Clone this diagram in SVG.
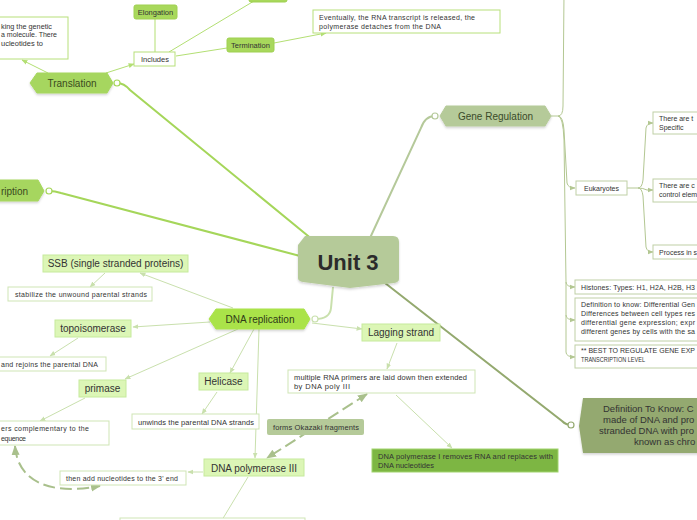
<svg xmlns="http://www.w3.org/2000/svg" width="697" height="520" viewBox="0 0 697 520">
<defs>
<style>
text{font-family:"Liberation Sans",Arial,sans-serif;fill:#333}
.s7{font-size:7px}
.s75{font-size:7.5px}
.s10{font-size:10px}
.mid{text-anchor:middle}
.end{text-anchor:end}
.wb{fill:#fff;stroke:#b7e07a;stroke-width:1}
.wl{fill:#fff;stroke:#cfe5b5;stroke-width:1}
.wo{fill:#fff;stroke:#bfd0a6;stroke-width:1}
.lg{fill:#dcf6b6;stroke:#c6ea9c;stroke-width:1}
.gb{fill:#a8d85c;stroke:#9fd050;stroke-width:1}
.cg{fill:none;stroke:#b3df73;stroke-width:1}
.cl{fill:none;stroke:#c9e0ad;stroke-width:1}
.co{fill:none;stroke:#b3c792;stroke-width:1}
.cd{fill:none;stroke:#a9c08c;stroke-width:2;stroke-dasharray:12 5}
.dot{fill:#fff;stroke-width:1.2}
</style>
<filter id="sh" x="-10%" y="-20%" width="120%" height="150%"><feDropShadow dx="0" dy="1.5" stdDeviation="1" flood-color="#000" flood-opacity="0.18"/></filter>
<marker id="ag" viewBox="0 0 10 10" refX="9" refY="5" markerWidth="6" markerHeight="6" markerUnits="userSpaceOnUse" orient="auto"><path d="M0,1 L10,5 L0,9 z" fill="#b3df73"/></marker>
<marker id="al" viewBox="0 0 10 10" refX="9" refY="5" markerWidth="6" markerHeight="6" markerUnits="userSpaceOnUse" orient="auto"><path d="M0,1 L10,5 L0,9 z" fill="#c9e0ad"/></marker>
<marker id="ao" viewBox="0 0 10 10" refX="9" refY="5" markerWidth="6" markerHeight="6" markerUnits="userSpaceOnUse" orient="auto"><path d="M0,1 L10,5 L0,9 z" fill="#b3c792"/></marker>
<marker id="ad" viewBox="0 0 10 10" refX="9" refY="5" markerWidth="10" markerHeight="10" markerUnits="userSpaceOnUse" orient="auto-start-reverse"><path d="M0,1 L10,5 L0,9 z" fill="#a9c08c"/></marker>
</defs>

<g id="connectors">
<path d="M117,83 Q124,83 130,90 L313,240" fill="none" stroke="#a5d65a" stroke-width="2"/>
<path d="M49,191 Q55,191 61,193 L300,256" fill="none" stroke="#a5d65a" stroke-width="2"/>
<path d="M435,116 Q425,116 421,128 L370,238" fill="none" stroke="#b5c99a" stroke-width="2"/>
<path d="M315,319 Q330,319 331,308 L333,287" fill="none" stroke="#c9e0ad" stroke-width="2"/>
<path d="M385,283 L562,421 Q566,425 571,425" fill="none" stroke="#94a96f" stroke-width="2"/>
<path class="cg" d="M48,73 L22,60" marker-end="url(#ag)"/>
<path class="cg" d="M106,73 L134,64" marker-end="url(#ag)"/>
<path class="cg" d="M155,52 L155,19"/>
<path class="cg" d="M169,52 L254,1"/>
<path class="cg" d="M176,56 L227,48"/>
<path class="cg" d="M274,43 L326,33" marker-end="url(#ag)"/>
<path class="co" d="M551,116 H558 Q563,116 563,106 L564,-5"/>
<path class="co" d="M558,116 Q563,116 564,130 L567,183 Q568,188 575,188" marker-end="url(#ao)"/>
<path class="co" d="M558,116 Q563,116 564,140 L566,282 Q566,287 575,287" marker-end="url(#ao)"/>
<path class="co" d="M566,282 L566,315 Q566,320 575,320" marker-end="url(#ao)"/>
<path class="co" d="M566,315 L566,352 Q566,357 575,357" marker-end="url(#ao)"/>
<path class="co" d="M627,188 H638 Q642,188 643,180 L646,128 Q647,123 653,123" marker-end="url(#ao)"/>
<path class="co" d="M638,188 Q643,188 647,190 L653,190" marker-end="url(#ao)"/>
<path class="co" d="M638,188 Q642,188 643,196 L646,247 Q647,252 653,252" marker-end="url(#ao)"/>
<path class="cl" d="M233,308 L140,273" marker-end="url(#al)"/>
<path class="cl" d="M105,273 L90,287" marker-end="url(#al)"/>
<path class="cl" d="M210,322 L133,327" marker-end="url(#al)"/>
<path class="cl" d="M78,338 L50,356" marker-end="url(#al)"/>
<path class="cl" d="M238,329 L125,379" marker-end="url(#al)"/>
<path class="cl" d="M85,398 L40,421" marker-end="url(#al)"/>
<path class="cl" d="M254,329 L230,373" marker-end="url(#al)"/>
<path class="cl" d="M217,392 L202,414" marker-end="url(#al)"/>
<path class="cl" d="M259,329 L255,458" marker-end="url(#al)"/>
<path class="cl" d="M203,472 L188,472" marker-end="url(#al)"/>
<path class="cl" d="M248,477 L222,520"/>
<path class="cl" d="M312,323 L362,329" marker-end="url(#al)"/>
<path class="cl" d="M397,343 L387,369" marker-end="url(#al)"/>
<path class="cl" d="M396,395 L452,448" marker-end="url(#al)"/>
<path class="cd" d="M367,394 L267,458" marker-start="url(#ad)" marker-end="url(#ad)"/>
<path class="cd" d="M15,446 C17,476 42,497 100,486" marker-start="url(#ad)" marker-end="url(#ad)"/>
</g>

<g id="unit3">
<path d="M305,236 H393 Q399,236 399,242 V279 Q399,282 394,283 L350,288 L303,282 Q298,281 298,278 V245 Z" fill="#b5ca99" filter="url(#sh)"/>
<text x="348" y="270" class="mid" style="font-size:22px;font-weight:bold;fill:#2b2b2b">Unit 3</text>
</g>

<g id="translation">
<polygon points="30,83 37,73 107,73 113,83 107,93 37,93" fill="#a6d65e" stroke="#a6d65e" stroke-linejoin="round" filter="url(#sh)"/>
<text x="72" y="86.5" class="s10 mid" style="fill:#3a4a20">Translation</text>
<circle class="dot" cx="117" cy="83" r="3" stroke="#a5d65a"/>
</g>
<g id="translation-def">
<rect class="wb" x="-5" y="17" width="73" height="42"/>
<text x="1" y="28.5" class="s7" textLength="51" lengthAdjust="spacingAndGlyphs">king the genetic</text>
<text x="1" y="37" class="s7" textLength="56" lengthAdjust="spacingAndGlyphs">a molecule. There</text>
<text x="1" y="45.5" class="s7" textLength="42" lengthAdjust="spacingAndGlyphs">ucleotides to</text>
</g>
<g id="includes">
<rect class="wb" x="134" y="52" width="41" height="14"/>
<text x="155" y="61.5" class="s75 mid">Includes</text>
</g>
<g id="elongation">
<rect class="gb" x="134" y="5" width="43" height="14" rx="2"/>
<text x="155.5" y="14.5" class="s75 mid">Elongation</text>
</g>
<g id="top-node">
<rect class="gb" x="249" y="-12" width="38" height="14" rx="2"/>
</g>
<g id="termination">
<rect class="gb" x="227" y="38" width="47" height="14" rx="2"/>
<text x="250.5" y="47.5" class="s75 mid">Termination</text>
</g>
<g id="eventually">
<rect class="wb" x="313" y="10" width="187" height="23"/>
<text x="319" y="19.5" class="s7" textLength="156">Eventually, the RNA transcript is released, the</text>
<text x="319" y="29" class="s7" textLength="122">polymerase detaches from the DNA</text>
</g>

<g id="transcription">
<polygon points="-12,191 -5,180 38,180 44,191 38,201 -5,201" fill="#a6d65e" stroke="#a6d65e" stroke-linejoin="round" filter="url(#sh)"/>
<text x="1" y="194.5" class="s10" style="fill:#3a4a20" textLength="27">ription</text>
<circle class="dot" cx="49" cy="191" r="3" stroke="#a5d65a"/>
</g>

<g id="gene-regulation">
<polygon points="440,116 446,106 545,106 551,116 545,126 446,126" fill="#b5ca99" stroke="#b5ca99" stroke-linejoin="round" filter="url(#sh)"/>
<text x="495.5" y="119.5" class="s10 mid" style="fill:#3a4a2a">Gene Regulation</text>
<circle class="dot" cx="435" cy="116" r="3" stroke="#b5c99a"/>
</g>
<g id="eukaryotes">
<rect class="wo" x="576" y="181" width="51" height="14"/>
<text x="601.5" y="190.5" class="s7 mid">Eukaryotes</text>
</g>
<g id="euk-1">
<rect class="wo" x="653" y="112" width="70" height="22"/>
<text x="659" y="120.5" class="s7">There are t</text>
<text x="659" y="130" class="s7">Specific</text>
</g>
<g id="euk-2">
<rect class="wo" x="653" y="179" width="70" height="23"/>
<text x="659" y="188" class="s7">There are c</text>
<text x="659" y="197" class="s7">control elem</text>
</g>
<g id="euk-3">
<rect class="wo" x="653" y="245" width="70" height="14"/>
<text x="659" y="254.5" class="s7">Process in s</text>
</g>
<g id="histones">
<rect class="wo" x="575" y="280" width="150" height="14"/>
<text x="581" y="289.5" class="s7" textLength="114">Histones: Types: H1, H2A, H2B, H3</text>
</g>
<g id="differential">
<rect class="wo" x="575" y="298" width="150" height="43"/>
<text x="581" y="306.5" class="s7" textLength="114">Definition to know: Differential Gen</text>
<text x="581" y="315.5" class="s7" textLength="114">Differences between cell types res</text>
<text x="581" y="324.5" class="s7" textLength="114">differential gene expression; expr</text>
<text x="581" y="333.5" class="s7" textLength="114">different genes by cells with the sa</text>
</g>
<g id="best">
<rect class="wo" x="575" y="345" width="150" height="23"/>
<text x="581" y="353" class="s7" textLength="114">** BEST TO REGULATE GENE EXP</text>
<text x="581" y="362" style="font-size:6.5px" textLength="64" lengthAdjust="spacingAndGlyphs">TRANSCRIPTION LEVEL</text>
</g>

<g id="chromatin">
<path d="M583,398 H710 V453 H583 L579,426 Z" fill="#94a96f" filter="url(#sh)"/>
<text x="603" y="412" style="font-size:9.5px">Definition To Know: C</text>
<text x="603" y="423" style="font-size:9.5px">made of DNA and pro</text>
<text x="599" y="434" style="font-size:9.5px">stranded DNA with pro</text>
<text x="634" y="445" style="font-size:9.5px">known as chro</text>
<circle class="dot" cx="571" cy="425" r="3" stroke="#94a96f"/>
</g>

<g id="dna-replication">
<polygon points="209,319 216,309 304,309 310,319 304,329 216,329" fill="#aae34a" stroke="#aae34a" stroke-linejoin="round" filter="url(#sh)"/>
<text x="260" y="322.5" class="s10 mid" style="fill:#2e3a18">DNA replication</text>
<circle class="dot" cx="315" cy="319" r="3" stroke="#c9e0ad"/>
</g>
<g id="ssb">
<rect class="lg" x="43" y="255" width="145" height="17"/>
<text x="115.5" y="267" class="s10 mid">SSB (single stranded proteins)</text>
</g>
<g id="stabilize">
<rect class="wl" x="8" y="287" width="144" height="14"/>
<text x="15" y="296.5" class="s7" textLength="132">stabilize the unwound parental strands</text>
</g>
<g id="topoisomerase">
<rect class="lg" x="55" y="320" width="76" height="17"/>
<text x="93" y="332" class="s10 mid">topoisomerase</text>
</g>
<g id="rejoins">
<rect class="wl" x="-5" y="357" width="111" height="14"/>
<text x="1" y="366.5" class="s7" textLength="97">and rejoins the parental DNA</text>
</g>
<g id="primase">
<rect class="lg" x="79" y="380" width="47" height="17"/>
<text x="102.5" y="392" class="s10 mid">primase</text>
</g>
<g id="primers">
<rect class="wl" x="-5" y="421" width="114" height="24"/>
<text x="1" y="430.5" class="s7" textLength="88">ers complementary to the</text>
<text x="1" y="440.5" class="s7" textLength="25">equence</text>
</g>
<g id="helicase">
<rect class="lg" x="199" y="373" width="49" height="17"/>
<text x="223.5" y="385" class="s10 mid">Helicase</text>
</g>
<g id="unwinds">
<rect class="wl" x="132" y="414" width="127" height="15"/>
<text x="138" y="424.5" class="s75" textLength="116">unwinds the parental DNA strands</text>
</g>
<g id="dna-pol-3">
<rect class="lg" x="204" y="459" width="100" height="17"/>
<text x="254" y="471.5" class="s10 mid">DNA polymerase III</text>
</g>
<g id="add-nucleotides">
<rect class="wl" x="60" y="471" width="126" height="14"/>
<text x="66" y="480.5" class="s7" textLength="112">then add nucleotides to the 3' end</text>
</g>
<g id="bottom-node">
<rect class="wl" x="120" y="518" width="185" height="12"/>
</g>
<g id="lagging">
<rect class="lg" x="362" y="324" width="78" height="17"/>
<text x="401" y="336" class="s10 mid">Lagging strand</text>
</g>
<g id="multiple">
<rect class="wl" x="288" y="370" width="187" height="23"/>
<text x="294" y="379.5" class="s75" textLength="173">multiple RNA primers are laid down then extended</text>
<text x="294" y="389" class="s75" textLength="56">by DNA poly III</text>
</g>
<g id="okazaki">
<rect x="267" y="419" width="97" height="16" rx="2" fill="#b5ca99"/>
<text x="273" y="430" class="s75" textLength="86">forms Okazaki fragments</text>
</g>
<g id="dna-pol-1">
<rect x="372" y="449" width="186" height="23" fill="#7db643" stroke="#a2d46e"/>
<text x="378" y="458.5" class="s75" textLength="175">DNA polymerase I removes RNA and replaces with</text>
<text x="378" y="467.5" class="s75" textLength="56">DNA nucleotides</text>
</g>
</svg>
